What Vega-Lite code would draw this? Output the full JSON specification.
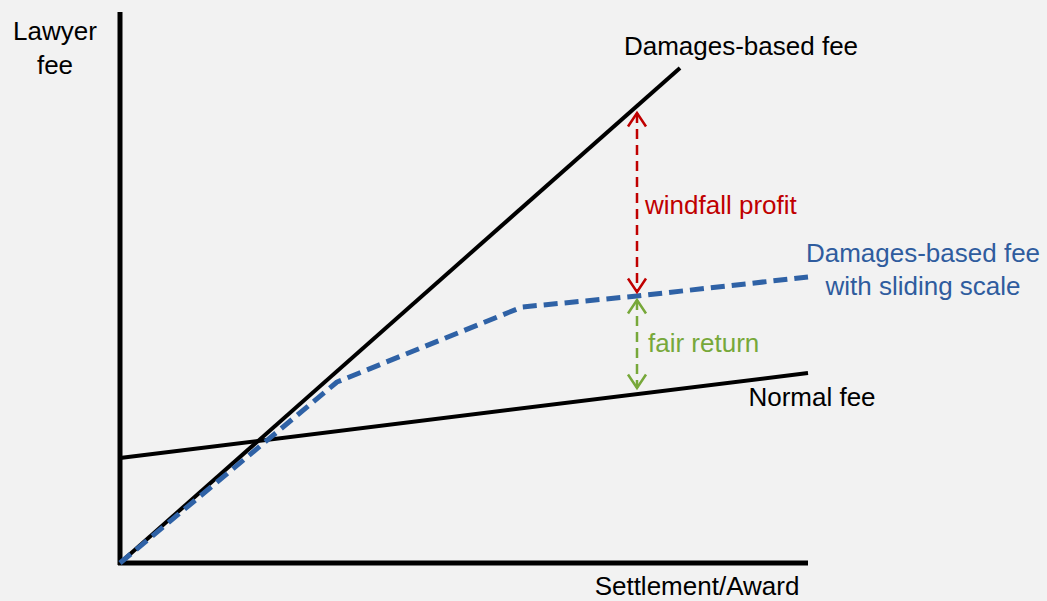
{
  "$schema": "https://vega.github.io/schema/vega-lite/v6.json",
  "width": 1047,
  "height": 601,
  "autosize": {"type": "fit", "contains": "padding"},
  "padding": 0,
  "background": "#f2f2f2",
  "config": {"view": {"stroke": null}},
  "datasets": {
    "axes": [
      {"seg": "y-axis", "i": 0, "x": 0, "y": -0.4},
      {"seg": "y-axis", "i": 1, "x": 0, "y": 110.2},
      {"seg": "x-axis", "i": 0, "x": -0.4, "y": 0},
      {"seg": "x-axis", "i": 1, "x": 137.6, "y": 0}
    ],
    "fees": [
      {"series": "Damages-based fee", "x": 0, "y": 0},
      {"series": "Damages-based fee", "x": 112, "y": 99},
      {"series": "Normal fee", "x": 0, "y": 21},
      {"series": "Normal fee", "x": 137.6, "y": 38}
    ],
    "sliding": [
      {"x": 0, "y": 0},
      {"x": 43.4, "y": 36.2},
      {"x": 80.4, "y": 51.2},
      {"x": 103.4, "y": 53.4},
      {"x": 137.6, "y": 57.2}
    ],
    "arrows": [
      {"group": "red", "i": 0, "x": 103.4, "y": 90},
      {"group": "red", "i": 1, "x": 103.4, "y": 54.2},
      {"group": "green", "i": 0, "x": 103.4, "y": 52.6},
      {"group": "green", "i": 1, "x": 103.4, "y": 35}
    ],
    "heads": [
      {"group": "red", "dir": "up", "x": 103.4, "y": 90},
      {"group": "red", "dir": "down", "x": 103.4, "y": 54.2},
      {"group": "green", "dir": "up", "x": 103.4, "y": 52.6},
      {"group": "green", "dir": "down", "x": 103.4, "y": 35}
    ],
    "centerLabels": [
      {"text": "Lawyer", "group": "black", "x": -13, "y": 104.7},
      {"text": "fee", "group": "black", "x": -13, "y": 97.9},
      {"text": "Settlement/Award", "group": "black", "x": 115.4, "y": -6.4},
      {"text": "Damages-based fee", "group": "black", "x": 124.2, "y": 101.6},
      {"text": "Normal fee", "group": "black", "x": 138.4, "y": 31.4},
      {"text": "Damages-based fee", "group": "blue", "x": 160.6, "y": 60.3},
      {"text": "with sliding scale", "group": "blue", "x": 160.6, "y": 53.6}
    ],
    "leftLabels": [
      {"text": "windfall profit", "group": "red", "x": 105, "y": 69.9},
      {"text": "fair return", "group": "green", "x": 105.6, "y": 42.3}
    ]
  },
  "layer": [
    {
      "data": {"name": "axes"},
      "mark": {"type": "line", "color": "#000000", "strokeWidth": 5, "strokeCap": "butt"},
      "encoding": {
        "x": {"field": "x", "type": "quantitative", "scale": {"domain": [-24, 185.4], "nice": false, "zero": false}, "axis": null},
        "y": {"field": "y", "type": "quantitative", "scale": {"domain": [-7.6, 112.6], "nice": false, "zero": false}, "axis": null},
        "detail": {"field": "seg"},
        "order": {"field": "i"}
      }
    },
    {
      "data": {"name": "fees"},
      "mark": {"type": "line", "color": "#000000", "strokeWidth": 4},
      "encoding": {
        "x": {"field": "x", "type": "quantitative"},
        "y": {"field": "y", "type": "quantitative"},
        "detail": {"field": "series"}
      }
    },
    {
      "data": {"name": "sliding"},
      "mark": {"type": "line", "color": "#2f62a6", "strokeWidth": 5, "strokeDash": [14, 7], "strokeJoin": "round"},
      "encoding": {
        "x": {"field": "x", "type": "quantitative"},
        "y": {"field": "y", "type": "quantitative"}
      }
    },
    {
      "data": {"name": "arrows"},
      "mark": {"type": "line", "strokeWidth": 2.5, "strokeDash": [10, 6]},
      "encoding": {
        "x": {"field": "x", "type": "quantitative"},
        "y": {"field": "y", "type": "quantitative"},
        "order": {"field": "i"},
        "color": {"field": "group", "type": "nominal", "scale": {"domain": ["black", "blue", "red", "green"], "range": ["#000000", "#2f5c9e", "#c00000", "#77a83a"]}, "legend": null}
      }
    },
    {
      "data": {"name": "heads"},
      "mark": {"type": "point", "filled": false, "strokeWidth": 2.5, "size": 400, "opacity": 1},
      "encoding": {
        "x": {"field": "x", "type": "quantitative"},
        "y": {"field": "y", "type": "quantitative"},
        "shape": {"field": "dir", "type": "nominal", "scale": {"domain": ["up", "down"], "range": ["M-0.9,1.35L0,0L0.9,1.35", "M-0.9,-1.35L0,0L0.9,-1.35"]}, "legend": null},
        "stroke": {"field": "group", "type": "nominal", "scale": {"domain": ["black", "blue", "red", "green"], "range": ["#000000", "#2f5c9e", "#c00000", "#77a83a"]}, "legend": null}
      }
    },
    {
      "data": {"name": "centerLabels"},
      "mark": {"type": "text", "align": "center", "baseline": "alphabetic", "font": "Liberation Sans", "fontSize": 26},
      "encoding": {
        "x": {"field": "x", "type": "quantitative"},
        "y": {"field": "y", "type": "quantitative"},
        "text": {"field": "text"},
        "color": {"field": "group", "type": "nominal", "scale": {"domain": ["black", "blue", "red", "green"], "range": ["#000000", "#2f5c9e", "#c00000", "#77a83a"]}, "legend": null}
      }
    },
    {
      "data": {"name": "leftLabels"},
      "mark": {"type": "text", "align": "left", "baseline": "alphabetic", "font": "Liberation Sans", "fontSize": 26},
      "encoding": {
        "x": {"field": "x", "type": "quantitative"},
        "y": {"field": "y", "type": "quantitative"},
        "text": {"field": "text"},
        "color": {"field": "group", "type": "nominal", "scale": {"domain": ["black", "blue", "red", "green"], "range": ["#000000", "#2f5c9e", "#c00000", "#77a83a"]}, "legend": null}
      }
    }
  ]
}
